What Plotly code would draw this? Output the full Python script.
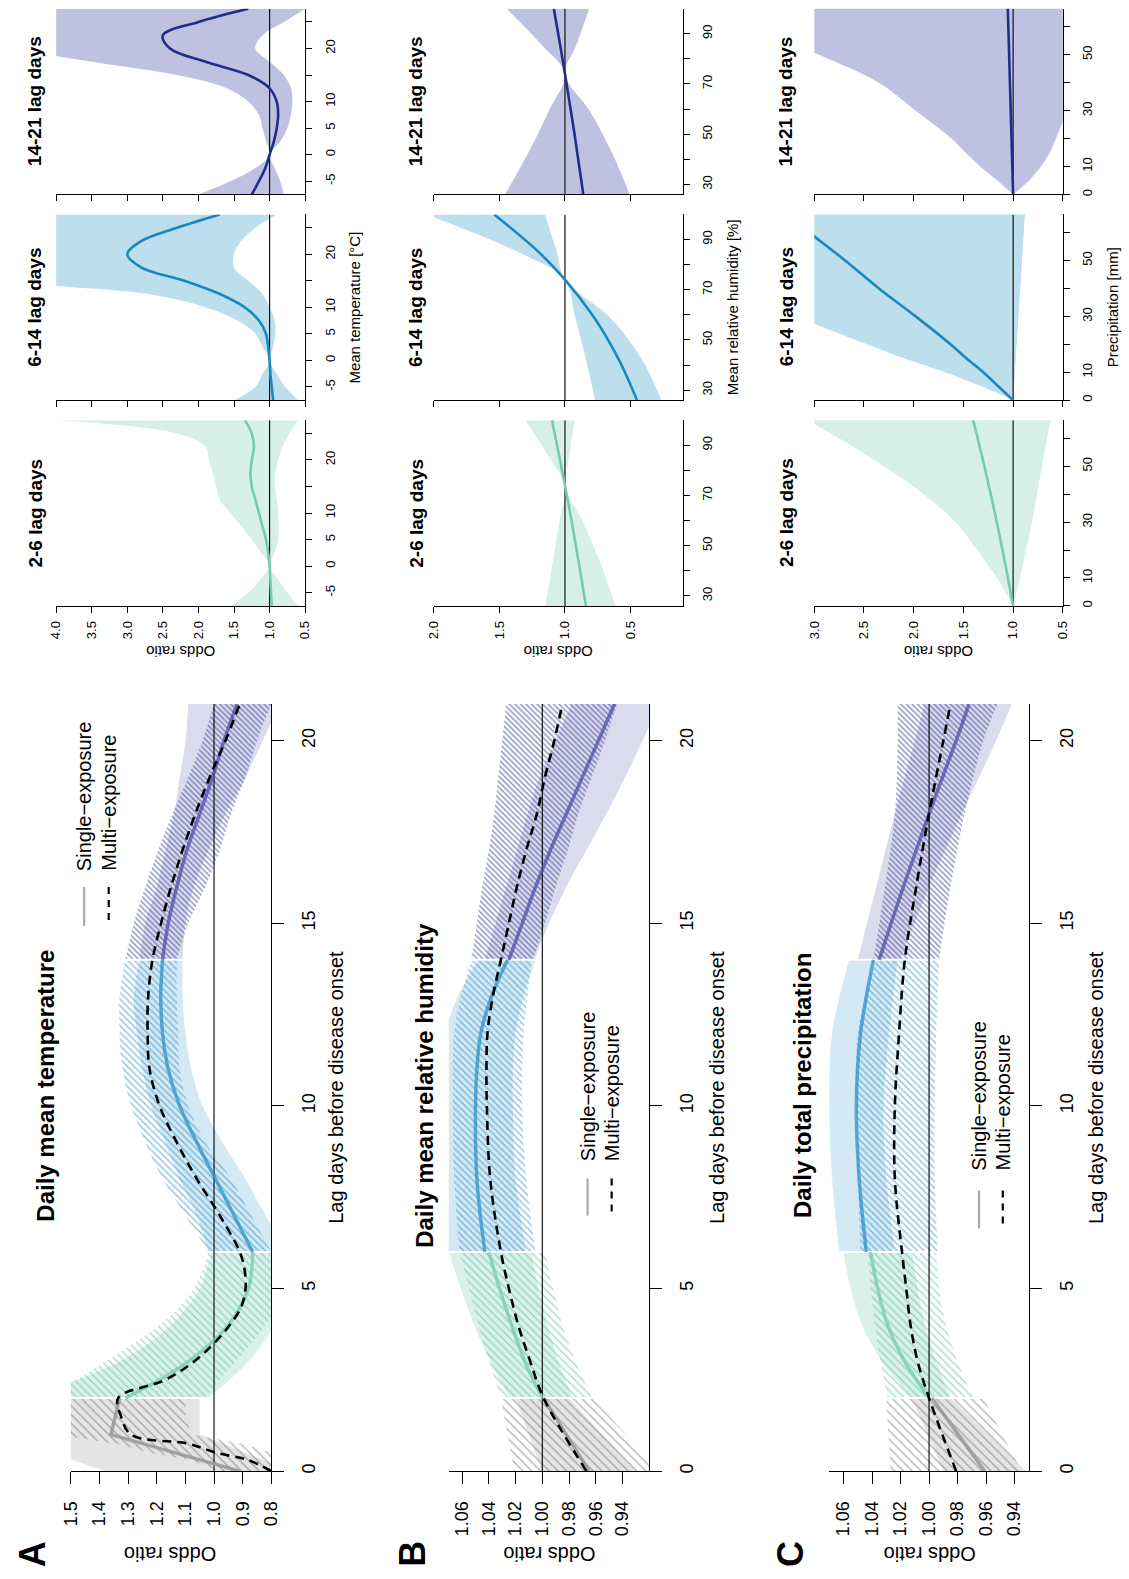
import plotly.graph_objects as go

W, H = 1129, 1579
FONT = "Liberation Sans, Arial, Helvetica, sans-serif"

# ---------------- lag-response panels (A-C) ----------------
# lag windows: 0-2, 2-6, 6-14, 14-21 days
lag_windows = [[0, 2], [2, 6], [6, 14], [14, 21]]

# A: daily mean temperature
temp_s_lag = [[0, 1, 2], [2, 3, 4, 5, 6], [6, 7, 8, 9, 10, 11, 12, 13, 14], [14, 15, 16, 17, 18, 19, 20, 21]]
temp_s_est = [[0.91, 1.36, 1.33], [1.31, 1.09, 0.95, 0.88, 0.865],
              [0.865, 0.93, 0.995, 1.06, 1.12, 1.16, 1.18, 1.186, 1.18],
              [1.18, 1.16, 1.13, 1.095, 1.05, 1.005, 0.965, 0.92]]
temp_s_lo = [[0.73, 1.05, 1.05], [1.02, 0.88, 0.79, 0.74, 0.73],
             [0.74, 0.82, 0.89, 0.97, 1.04, 1.08, 1.10, 1.11, 1.11],
             [1.11, 1.10, 1.07, 1.02, 0.96, 0.89, 0.83, 0.77]]
temp_s_hi = [[1.38, 1.75, 1.65], [1.66, 1.33, 1.15, 1.05, 1.01],
             [1.02, 1.06, 1.12, 1.17, 1.22, 1.25, 1.27, 1.28, 1.26],
             [1.26, 1.24, 1.20, 1.17, 1.14, 1.12, 1.10, 1.09]]
temp_m_lag = [[0, 0.3, 0.5, 0.75, 1.0, 1.5, 2], [2, 2.5, 3, 3.5, 4, 4.5, 5, 5.5, 6],
              [6, 7, 8, 9, 10, 11, 12, 13, 14], [14, 15, 16, 17, 18, 19, 20, 21]]
temp_m_est = [[0.80, 0.88, 0.99, 1.09, 1.29, 1.325, 1.335],
              [1.335, 1.17, 1.07, 1.0, 0.945, 0.905, 0.89, 0.893, 0.91],
              [0.91, 0.98, 1.06, 1.13, 1.19, 1.225, 1.232, 1.23, 1.215],
              [1.215, 1.185, 1.15, 1.11, 1.065, 1.015, 0.96, 0.91]]
temp_m_lo = [[0.66, 0.72, 0.80, 0.90, 1.08, 1.10, 1.10],
             [1.03, 0.98, 0.925, 0.87, 0.82, 0.78, 0.76, 0.76, 0.77],
             [0.80, 0.87, 0.94, 1.03, 1.09, 1.12, 1.125, 1.13, 1.13],
             [1.13, 1.09, 1.03, 0.98, 0.94, 0.89, 0.85, 0.80]]
temp_m_hi = [[0.98, 1.08, 1.22, 1.34, 1.55, 1.62, 1.62],
             [1.62, 1.48, 1.38, 1.28, 1.19, 1.12, 1.07, 1.04, 1.02],
             [1.02, 1.10, 1.18, 1.24, 1.29, 1.32, 1.33, 1.33, 1.31],
             [1.31, 1.28, 1.24, 1.195, 1.145, 1.09, 1.04, 1.0]]

# B: daily mean relative humidity
hum_lag = [[0, 2], [2, 3, 4, 5, 6], [6, 8, 10, 11, 12, 13, 14], [14, 15, 16, 17, 18, 19, 20, 21]]
hum_s_est = [[0.965, 0.999], [1.0, 1.013, 1.023, 1.032, 1.04],
             [1.043, 1.049, 1.05, 1.049, 1.046, 1.038, 1.026],
             [1.025, 1.015, 1.005, 0.994, 0.982, 0.97, 0.958, 0.946]]
hum_s_lo = [[0.93, 0.98], [0.977, 0.988, 0.996, 1.003, 1.008],
            [1.012, 1.02, 1.022, 1.022, 1.02, 1.014, 1.005],
            [1.006, 0.995, 0.982, 0.967, 0.952, 0.938, 0.925, 0.912]]
hum_s_hi = [[1.0, 1.02], [1.024, 1.039, 1.051, 1.061, 1.07],
            [1.075, 1.078, 1.078, 1.077, 1.073, 1.063, 1.048],
            [1.043, 1.035, 1.027, 1.019, 1.011, 1.002, 0.99, 0.978]]
hum_m_est = [[0.967, 0.999], [0.999, 1.009, 1.018, 1.025, 1.031],
             [1.033, 1.039, 1.0415, 1.0418, 1.041, 1.037, 1.031],
             [1.031, 1.025, 1.019, 1.012, 1.004, 0.998, 0.991, 0.985]]
hum_m_lo = [[0.913, 0.962], [0.963, 0.975, 0.985, 0.992, 0.998],
            [1.005, 1.012, 1.015, 1.015, 1.014, 1.011, 1.008],
            [1.007, 0.998, 0.99, 0.981, 0.973, 0.963, 0.953, 0.944]]
hum_m_hi = [[1.021, 1.031], [1.031, 1.04, 1.048, 1.055, 1.062],
            [1.062, 1.066, 1.067, 1.067, 1.066, 1.061, 1.053],
            [1.053, 1.049, 1.045, 1.04, 1.036, 1.033, 1.03, 1.027]]

# C: daily total precipitation
prec_lag = [[0, 2], [2, 3, 4, 5, 6], [6, 8, 10, 12, 14], [14, 16, 18, 20, 21]]
prec_s_est = [[0.961, 0.998], [1.0, 1.017, 1.029, 1.036, 1.041],
              [1.044, 1.049, 1.051, 1.048, 1.039], [1.035, 1.018, 1.0, 0.981, 0.972]]
prec_s_lo = [[0.932, 0.985], [0.985, 0.995, 1.003, 1.008, 1.012],
             [1.024, 1.03, 1.032, 1.028, 1.022], [1.02, 1.0, 0.977, 0.953, 0.942]]
prec_s_hi = [[0.99, 1.012], [1.012, 1.033, 1.047, 1.055, 1.06],
             [1.063, 1.068, 1.07, 1.068, 1.056], [1.05, 1.037, 1.024, 1.01, 1.003]]
prec_m_est = [[0.981, 1.0], [1.0, 1.008, 1.013, 1.016, 1.019],
              [1.02, 1.024, 1.024, 1.021, 1.017], [1.016, 1.009, 1.0, 0.99, 0.985]]
prec_m_lo = [[0.935, 0.962], [0.969, 0.98, 0.988, 0.993, 0.995],
             [0.994, 0.996, 0.996, 0.995, 0.993], [0.993, 0.985, 0.975, 0.962, 0.952]]
prec_m_hi = [[1.027, 1.03], [1.029, 1.034, 1.038, 1.041, 1.043],
             [1.048, 1.05, 1.051, 1.05, 1.037], [1.039, 1.031, 1.024, 1.022, 1.022]]

# ---------------- exposure-response panels ----------------
window_titles = ["14-21 lag days", "6-14 lag days", "2-6 lag days"]

temp_x = [-7.5, -5, -2.5, 0, 2.5, 5, 7.5, 10, 12.5, 15, 17.5, 20, 22.5, 25, 27.5]
temp_est = [[1.25, 1.15, 1.06, 1.0, 0.94, 0.9, 0.88, 0.9, 1.0, 1.3, 1.9, 2.4, 2.5, 2.0, 1.3],
            [0.95, 0.97, 0.99, 1.0, 1.02, 1.05, 1.15, 1.35, 1.7, 2.2, 2.8, 3.0, 2.8, 2.3, 1.7],
            [0.97, 0.98, 0.99, 1.0, 1.02, 1.05, 1.1, 1.15, 1.2, 1.25, 1.27, 1.25, 1.22, 1.25, 1.35]]
temp_lo = [[0.8, 0.85, 0.93, 1.0, 0.85, 0.75, 0.7, 0.68, 0.7, 0.8, 1.0, 1.2, 1.1, 0.8, 0.5],
           [0.6, 0.78, 0.9, 1.0, 0.95, 0.92, 0.93, 1.0, 1.1, 1.3, 1.5, 1.5, 1.4, 1.2, 0.9],
           [0.6, 0.75, 0.88, 1.0, 0.93, 0.88, 0.87, 0.88, 0.9, 0.92, 0.92, 0.88, 0.82, 0.72, 0.6]]
temp_hi = [[2.0, 1.55, 1.2, 1.0, 1.05, 1.1, 1.15, 1.3, 1.6, 2.3, 3.5, 4.5, 5.0, 5.0, 5.0],
           [1.5, 1.2, 1.1, 1.0, 1.1, 1.2, 1.45, 1.9, 2.7, 4.5, 5.0, 5.0, 5.0, 5.0, 5.0],
           [1.55, 1.3, 1.13, 1.0, 1.12, 1.25, 1.4, 1.55, 1.7, 1.75, 1.8, 1.85, 1.9, 2.3, 4.0]]

hum_x = [26, 40, 50, 60, 74, 85, 100]
hum_est = [[0.86, 0.899, 0.927, 0.957, 1.0, 1.035, 1.085],
           [0.45, 0.568, 0.671, 0.792, 1.0, 1.20, 1.54],
           [0.84, 0.884, 0.917, 0.950, 1.0, 1.041, 1.099]]
hum_lo = [[0.507, 0.618, 0.712, 0.820, 1.0, 0.917, 0.815],
          [0.263, 0.388, 0.513, 0.677, 1.0, 1.062, 1.153],
          [0.613, 0.707, 0.783, 0.867, 1.0, 0.968, 0.927]]
hum_hi = [[1.458, 1.306, 1.208, 1.116, 1.0, 1.168, 1.444],
          [0.769, 0.830, 0.877, 0.926, 1.0, 1.358, 2.06],
          [1.151, 1.105, 1.073, 1.042, 1.0, 1.119, 1.303]]

prec_x = [0, 5, 10, 15, 20, 30, 40, 50, 60, 67]
prec_est = [[1.0, 1.004, 1.008, 1.012, 1.016, 1.024, 1.032, 1.04, 1.048, 1.054],
            [1.0, 1.15, 1.30, 1.47, 1.63, 1.98, 2.35, 2.69, 3.05, 3.3],
            [1.0, 1.026, 1.052, 1.079, 1.107, 1.164, 1.225, 1.289, 1.356, 1.405]]
prec_lo = [[1.0, 0.84, 0.72, 0.63, 0.57, 0.46, 0.38, 0.32, 0.27, 0.24],
           [1.0, 0.991, 0.982, 0.973, 0.964, 0.946, 0.928, 0.91, 0.893, 0.88],
           [1.0, 0.965, 0.93, 0.90, 0.87, 0.81, 0.76, 0.71, 0.66, 0.62]]
prec_hi = [[1.0, 1.16, 1.33, 1.48, 1.62, 1.98, 2.35, 2.95, 3.6, 4.1],
           [1.0, 1.32, 1.68, 2.1, 2.47, 3.2, 4.0, 4.8, 5.6, 6.2],
           [1.0, 1.08, 1.16, 1.26, 1.36, 1.58, 1.9, 2.3, 2.75, 3.1]]

# ---------------- styling ----------------
win_fill = ["#e4e4e4", "#daf1e9", "#d3e9f4", "#dadbed"]
win_hatch = ["#6e6e6e", "#52bb98", "#2386c2", "#28318e"]
win_line = ["rgba(150,150,150,0.85)", "rgba(120,205,178,0.8)", "rgba(45,145,200,0.75)", "rgba(75,80,170,0.75)"]
hatch_size = [6.2, 5.4, 4.7, 3.9]
small_fill = ["#bec2e0", "#bcdeed", "#d6efe7"]   # 14-21, 6-14, 2-6
small_line = ["#1f2d8c", "#1a88c0", "#74cbb0"]

fig = go.Figure()
layout_axes = {}
n_axes = [0]


def px_x(v):
    return v / W


def px_y(v):
    return 1 - v / H


def new_axes(xdom, ydom, xcfg, ycfg):
    n_axes[0] += 1
    k = "" if n_axes[0] == 1 else str(n_axes[0])
    xcfg.update(domain=[px_x(xdom[0]), px_x(xdom[1])], anchor="y" + k)
    ycfg.update(domain=[px_y(ydom[1]), px_y(ydom[0])], anchor="x" + k)
    layout_axes["xaxis" + k] = xcfg
    layout_axes["yaxis" + k] = ycfg
    return "x" + k, "y" + k


def base_axis(size, ticklen, standoff):
    return dict(ticks="outside", ticklen=ticklen, tickwidth=1, tickcolor="black",
                showline=True, linecolor="black", linewidth=1, showgrid=False,
                zeroline=False, tickangle=-90, fixedrange=True,
                ticklabelstandoff=standoff,
                tickfont=dict(family=FONT, size=size, color="black"))


def band(xr, yr, ys, lo, hi, fillcolor=None, pattern=None, shape="spline"):
    fig.add_trace(go.Scatter(x=lo, y=ys, mode="lines", xaxis=xr, yaxis=yr,
                             line=dict(width=0, shape=shape), hoverinfo="skip",
                             showlegend=False))
    kw = dict(fill="tonextx")
    if pattern is not None:
        kw["fillpattern"] = pattern
        kw["fillcolor"] = "rgba(0,0,0,0)"
    else:
        kw["fillcolor"] = fillcolor
    fig.add_trace(go.Scatter(x=hi, y=ys, mode="lines", xaxis=xr, yaxis=yr,
                             line=dict(width=0, shape=shape), hoverinfo="skip",
                             showlegend=False, **kw))


def line(xr, yr, xs, ys, color, width, dash=None, shape="spline"):
    fig.add_trace(go.Scatter(x=xs, y=ys, mode="lines", xaxis=xr, yaxis=yr,
                             line=dict(color=color, width=width, dash=dash, shape=shape),
                             hoverinfo="skip", showlegend=False))


def lag_panel(xdom, or_range, or_ticks, fmt, s_lag, s_est, s_lo, s_hi,
              m_lag, m_est, m_lo, m_hi):
    xcfg = base_axis(18, 12, 10)
    xcfg.update(range=[or_range[1], or_range[0]], tickvals=or_ticks, tickformat=fmt, side="bottom")
    ycfg = base_axis(18, 12, 9)
    ycfg.update(range=[0, 21], tickvals=[0, 5, 10, 15, 20], side="right")
    xr, yr = new_axes(xdom, (705, 1473), xcfg, ycfg)
    for w in range(4):
        shape = "linear" if w == 0 else "spline"
        band(xr, yr, s_lag[w], s_lo[w], s_hi[w], fillcolor=win_fill[w], shape=shape)
        band(xr, yr, m_lag[w], m_lo[w], m_hi[w], shape=shape,
             pattern=dict(shape="\\", fgcolor=win_hatch[w], bgcolor="rgba(0,0,0,0)",
                          size=hatch_size[w], solidity=1.5 / hatch_size[w]))
    for w in range(1, 4):
        b = lag_windows[w][0]
        line(xr, yr, [or_range[0] - 1, or_range[1] + 1], [b, b], "white", 2, shape="linear")
    line(xr, yr, [1, 1], [0, 21], "black", 1.1, shape="linear")
    for w in range(4):
        line(xr, yr, s_est[w], s_lag[w], win_line[w], 3.5, shape="linear" if w == 0 else "spline")
    xs, ys = [], []
    for w in range(4):
        st = 0 if w == 0 else 1
        xs += m_est[w][st:]
        ys += m_lag[w][st:]
    line(xr, yr, xs, ys, "black", 2.6, dash="9px,6px")


lag_panel((62, 266), (0.8, 1.5), [0.8, 0.9, 1.0, 1.1, 1.2, 1.3, 1.4, 1.5], ".1f",
          temp_s_lag, temp_s_est, temp_s_lo, temp_s_hi, temp_m_lag, temp_m_est, temp_m_lo, temp_m_hi)
lag_panel((446.7, 650.7), (0.92, 1.07), [0.94, 0.96, 0.98, 1.0, 1.02, 1.04, 1.06], ".2f",
          hum_lag, hum_s_est, hum_s_lo, hum_s_hi, hum_lag, hum_m_est, hum_m_lo, hum_m_hi)
lag_panel((834, 1037.3), (0.93, 1.07), [0.94, 0.96, 0.98, 1.0, 1.02, 1.04, 1.06], ".2f",
          prec_lag, prec_s_est, prec_s_lo, prec_s_hi, prec_lag, prec_m_est, prec_m_lo, prec_m_hi)

# exposure-response columns
rows = [(8.7, 194.7), (214.7, 400.7), (420.7, 606.7)]
columns = [
    dict(x=(47, 300.5), rng=(0.5, 4.0), ticks=[0.5, 1.0, 1.5, 2.0, 2.5, 3.0, 3.5, 4.0], tx=25,
         yr=(-7.5, 27.5), yt=[-5, 0, 5, 10, 15, 20, 25], ytt=["-5", "0", "5", "10", "", "20", ""],
         xs=temp_x, est=temp_est, lo=temp_lo, hi=temp_hi, title="Mean temperature [\u00b0C]"),
    dict(x=(431.6, 685), rng=(0.1, 2.0), ticks=[0.5, 1.0, 1.5, 2.0], tx=413,
         yr=(26, 100), yt=[30, 40, 50, 60, 70, 80, 90], ytt=["30", "", "50", "", "70", "", "90"],
         xs=hum_x, est=hum_est, lo=hum_lo, hi=hum_hi, title="Mean relative humidity [%]"),
    dict(x=(818.8, 1071.8), rng=(0.5, 3.0), ticks=[0.5, 1.0, 1.5, 2.0, 2.5, 3.0], tx=790,
         yr=(0, 66.5), yt=[0, 10, 20, 30, 40, 50, 60], ytt=["0", "10", "", "30", "", "50", ""],
         xs=prec_x, est=prec_est, lo=prec_lo, hi=prec_hi, title="Precipitation [mm]"),
]

annotations = []


def text(x, y, s, size, angle=-90, bold=False):
    annotations.append(dict(x=px_x(x), y=px_y(y), xref="paper", yref="paper", text=s,
                            textangle=angle, showarrow=False, xanchor="center", yanchor="middle",
                            font=dict(family=FONT, size=size, color="black",
                                      weight="bold" if bold else "normal")))


for col in columns:
    for r, (top, bot) in enumerate(rows):
        xcfg = base_axis(13, 6, 3)
        xcfg.update(range=[col["rng"][1], col["rng"][0]], tickvals=col["ticks"], tickformat=".1f",
                    side="bottom", showticklabels=(r == 2))
        ycfg = base_axis(13, 6, 7)
        ycfg.update(range=list(col["yr"]), tickvals=col["yt"], ticktext=col["ytt"], side="right")
        xr, yr = new_axes(col["x"], (top, bot), xcfg, ycfg)
        band(xr, yr, col["xs"], col["lo"][r], col["hi"][r], fillcolor=small_fill[r])
        line(xr, yr, [1, 1], list(col["yr"]), "black", 1.1, shape="linear")
        line(xr, yr, col["est"][r], col["xs"], small_line[r], 2.6)
        text(col["tx"], (top + bot) / 2, window_titles[r], 19, bold=True)
    text(col["x"][1] + 50, (rows[1][0] + rows[1][1]) / 2, col["title"], 15)
    text((col["x"][0] + col["x"][1]) / 2, 653, "Odds ratio", 15, angle=180)

# panel titles, labels and legends
for px_, title, letter, lx, orx, ax_x, leg in [
        (36.7, "Daily mean temperature", "A", 22.5, 163, 331, (75.5, 100.5, 888, 927, 872)),
        (421.7, "Daily mean relative humidity", "B", 409, 549, 719, (588, 612.5, 1180, 1217, 1163)),
        (806.7, "Daily total precipitation", "C", 794, 936, 1105, (986.5, 1010.7, 1192, 1230, 1172))]:
    text(px_, 1087, title, 24, bold=True)
    text(lx, 1556, letter, 36, bold=True)
    text(orx, 1556, "Odds ratio", 20, angle=180)
    text(ax_x, 1089, "Lag days before disease onset", 20)
    text(leg[0], leg[4] - 75, "Single\u2212exposure", 20)
    text(leg[1], leg[4] - 68, "Multi\u2212exposure", 20)

shapes = []
for lx1, lx2, y1, y2 in [(75.5, 100.5, 888, 927), (588, 612.5, 1180, 1217), (986.5, 1010.7, 1192, 1230)]:
    shapes.append(dict(type="line", xref="paper", yref="paper", x0=px_x(lx1), x1=px_x(lx1),
                       y0=px_y(y1), y1=px_y(y2), line=dict(color="#a8a8a8", width=2.2)))
    shapes.append(dict(type="line", xref="paper", yref="paper", x0=px_x(lx2), x1=px_x(lx2),
                       y0=px_y(y1), y1=px_y(y2), line=dict(color="black", width=2.2, dash="7px,6px")))

fig.update_layout(width=W, height=H, margin=dict(l=0, r=0, t=0, b=0, pad=0),
                  paper_bgcolor="white", plot_bgcolor="white", showlegend=False,
                  font=dict(family=FONT, color="black"),
                  annotations=annotations, shapes=shapes, **layout_axes)

fig.write_html("out.html")
